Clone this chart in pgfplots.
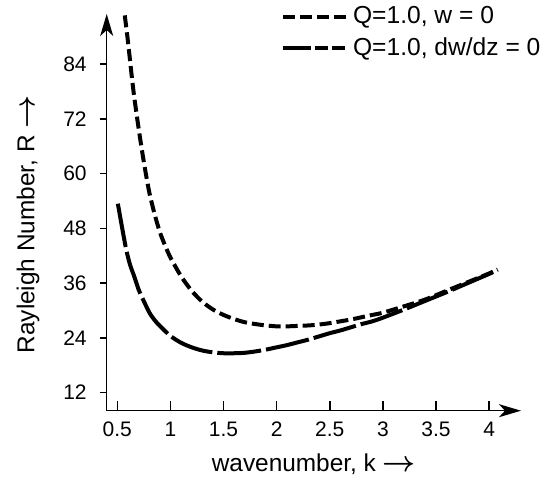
\documentclass[border=0pt]{standalone}
\usepackage{fontspec}
\setmainfont{Liberation Sans}
\usepackage{pgfplots}
\pgfplotsset{compat=1.18}
\usetikzlibrary{arrows.meta}
\newcommand{\rarr}{{\fontsize{14}{14}\selectfont\boldmath$\rightarrow$}}

\pgfplotstableread{
k R
0.57 94.7
0.60 89.0
0.65 78.5
0.70 70.0
0.75 62.5
0.80 56.0
0.85 51.2
0.90 47.2
0.95 44.2
1.00 41.6
1.10 37.5
1.20 34.3
1.30 31.9
1.40 30.2
1.50 29.0
1.60 28.1
1.70 27.4
1.80 27.0
1.90 26.7
2.00 26.5
2.10 26.5
2.20 26.6
2.30 26.7
2.40 26.9
2.50 27.2
2.60 27.6
2.70 28.0
2.80 28.5
2.90 29.0
3.00 29.5
3.20 30.9
3.40 32.4
3.60 34.3
3.80 36.2
4.00 38.1
4.08 39.0
}\dashedtab

\pgfplotstableread{
k R
0.505 53.4
0.55 47.5
0.585 43.2
0.62 40.0
0.66 37.4
0.70 34.6
0.73 33.0
0.80 29.6
0.85 27.9
0.90 26.6
1.00 24.4
1.10 22.9
1.20 21.9
1.30 21.2
1.40 20.8
1.50 20.6
1.60 20.6
1.70 20.7
1.80 21.0
1.90 21.4
2.00 21.9
2.10 22.4
2.20 23.0
2.30 23.6
2.40 24.3
2.50 25.0
2.60 25.6
2.70 26.3
2.80 27.0
2.90 27.6
3.00 28.4
3.20 30.2
3.40 32.1
3.60 34.0
3.80 36.0
4.00 38.0
4.08 38.9
}\solidtab

\begin{document}
\begin{tikzpicture}
\begin{axis}[
  scale only axis, width=207.15pt, height=198.35pt,
  xmin=0.4, xmax=4.3, ymin=8, ymax=95,
  axis lines=left,
  axis line style={line width=0.8pt, -{Stealth[length=11pt,width=6.5pt,inset=3pt]}},
  xtick={0.5,1,1.5,2,2.5,3,3.5,4},
  ytick={12,24,36,48,60,72,84},
  tick align=inside, major tick length=5pt,
  tick style={line width=0.8pt, black},
  ytick style={xshift=-5pt, dash pattern=on 0pt off 1.5pt on 3.5pt off 20pt},
  /pgf/number format/assume math mode=true,
  tick label style={font=\fontsize{10.5}{12}\selectfont},
  xticklabel style={yshift=-2pt},
  yticklabel style={xshift=-6.5pt},
  xlabel={wavenumber, k \rarr},
  ylabel={Rayleigh Number, R \rarr},
  label style={font=\fontsize{12.2}{14}\selectfont},
  xlabel style={at={(axis description cs:0.5,0)}, anchor=center, yshift=-27pt},
  ylabel style={at={(axis description cs:-0.19,0.47)}, anchor=center},
  legend style={at={(axis description cs:0.42,1.03)}, anchor=north west,
    draw=none, fill=none, font=\fontsize{12.3}{14}\selectfont, row sep=1.5pt, inner sep=0pt},
  legend cell align=left,
  legend image code/.code={\draw[#1] (0pt,0pt) -- (32pt,0pt);},
  clip=false,
]
\addplot[black, line width=2pt, dash pattern=on 6pt off 2.5pt, smooth] table[x=k,y=R] {\dashedtab};
\addlegendentry{Q=1.0, w = 0}
\addplot[black, line width=2pt, dash pattern=on 22pt off 2.5pt, smooth,
  legend image code/.code={\draw[black, line width=2pt, dash pattern=on 14pt off 2pt on 6.5pt off 2pt on 6.5pt off 10pt] (0pt,0pt) -- (32pt,0pt);}] table[x=k,y=R] {\solidtab};
\addlegendentry{Q=1.0, dw/dz = 0}
\end{axis}
\pgfresetboundingbox
\path (-53.35pt,-36.15pt) rectangle (223.15pt,205.35pt);
\end{tikzpicture}
\end{document}
